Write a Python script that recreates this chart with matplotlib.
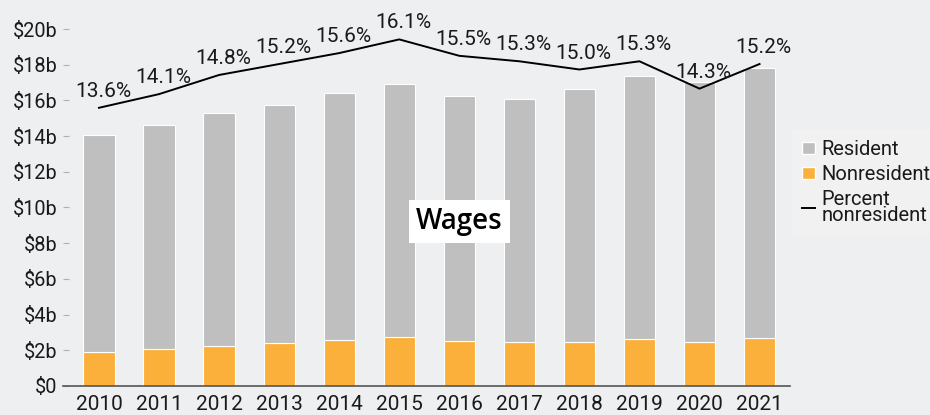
import matplotlib.pyplot as plt
import numpy as np
from matplotlib.patches import Patch
from matplotlib.lines import Line2D

years = ["2010", "2011", "2012", "2013", "2014", "2015",
         "2016", "2017", "2018", "2019", "2020", "2021"]
# wages in $ billions
nonresident = [1.91, 2.06, 2.26, 2.39, 2.56, 2.73, 2.51, 2.46, 2.49, 2.65, 2.44, 2.70]
resident = [12.13, 12.56, 13.04, 13.34, 13.88, 14.21, 13.71, 13.64, 14.14, 14.69, 14.60, 15.09]
pct_nonresident = [13.6, 14.1, 14.8, 15.2, 15.6, 16.1, 15.5, 15.3, 15.0, 15.3, 14.3, 15.2]
yticks = [0, 2, 4, 6, 8, 10, 12, 14, 16, 18, 20]
ytick_labels = ["$0"] + ["$%db" % v for v in yticks[1:]]

bg = "#eeeff0"
gray = "#bfbfbf"
orange = "#fbb03b"
txt = "#1a1a1a"

plt.rcParams["font.family"] = ["Roboto", "DejaVu Sans"]

fig = plt.figure(figsize=(9.3, 4.15), dpi=100, facecolor=bg)
ax0 = fig.add_axes([0.0677, 0.0699, 0.7813, 0.8602])
ax0.set_facecolor("none")

x = np.arange(len(years))
ax0.bar(x, nonresident, width=0.52, color=orange, edgecolor="white", linewidth=0.8)
ax0.bar(x, resident, width=0.52, bottom=nonresident, color=gray, edgecolor="white", linewidth=0.8)

ax0.set_xlim(-0.6, 11.5)
ax0.set_ylim(0, 20)
ax0.set_yticks(yticks)
ax0.set_yticklabels(ytick_labels)
ax0.set_xticks(x)
ax0.set_xticklabels(years)
ax0.tick_params(axis="y", direction="in", length=4, color="#b0b0b0", labelsize=14.3,
                labelcolor=txt, pad=4)
ax0.tick_params(axis="x", length=0, labelsize=15, labelcolor=txt, pad=6.5)
for s in ["top", "right", "left"]:
    ax0.spines[s].set_visible(False)
ax0.spines["bottom"].set_color("#555555")
ax0.spines["bottom"].set_linewidth(1.2)

# percent line on a hidden second axis
ax1 = ax0.twinx()
ax1.set_ylim(3.43, 16.48)
ax1.plot(x, pct_nonresident, color="black", linewidth=1.4)
ax1.axis("off")
for i, p in enumerate(pct_nonresident):
    ax1.annotate("%.1f%%" % p, (i, p), xytext=(3, 5), textcoords="offset points",
                 ha="center", va="bottom", fontsize=15, color=txt, annotation_clip=False)

fig.text(0.494, 0.466, "Wages", ha="center", va="center", fontsize=20,
         fontfamily="Open Sans", fontweight="semibold", color="black",
         bbox=dict(boxstyle="square,pad=0.25", facecolor="white", edgecolor="none"))

handles = [Patch(facecolor=gray, edgecolor="white"),
           Patch(facecolor=orange, edgecolor="white"),
           Line2D([0], [0], color="black", linewidth=1.4)]
leg = fig.legend(handles, ["Resident", "Nonresident", "Percent\nnonresident"],
                 loc="center left", bbox_to_anchor=(0.852, 0.56), frameon=True,
                 fontsize=14.5, handlelength=0.6, handleheight=0.6, handletextpad=0.35,
                 labelspacing=0.3, borderpad=0.5, borderaxespad=0, fancybox=False)
leg.get_frame().set_facecolor("#f2f2f2")
leg.get_frame().set_edgecolor("none")
for t in leg.get_texts():
    t.set_color(txt)
    t.set_linespacing(0.8)

plt.savefig("out.png", dpi=100, facecolor=bg)
